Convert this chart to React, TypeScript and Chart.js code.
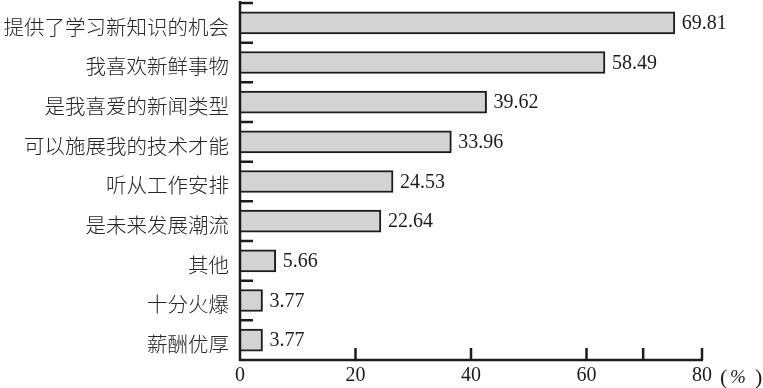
import React, { useEffect, useRef } from 'react';
import { Chart, registerables } from 'chart.js';

Chart.register(...registerables);

// Categories, top to bottom
const categories = [
  '提供了学习新知识的机会',
  '我喜欢新鲜事物',
  '是我喜爱的新闻类型',
  '可以施展我的技术才能',
  '听从工作安排',
  '是未来发展潮流',
  '其他',
  '十分火爆',
  '薪酬优厚',
];
// Bar lengths as drawn in the picture (x-axis units)
const barLengths = [75.3, 63.2, 42.7, 36.6, 26.5, 24.4, 6.2, 3.9, 3.9];
// Values printed next to the bars
const printedValues = ['69.81', '58.49', '39.62', '33.96', '24.53', '22.64', '5.66', '3.77', '3.77'];
// X axis tick labels and tick marks
const xTickValues = [0, 20, 40, 60, 80];
const xTickMarks = [20, 40, 60, 69.81, 80];
const xUnitParts = ['(', '%', ')'];

const INK = '#1c1c1c';
const BAR_FILL = '#d3d3d3';
const SERIF = '"Liberation Serif", "Times New Roman", serif';
const CJK = '"Noto Sans CJK SC", sans-serif';

const decor = {
  id: 'decor',
  afterDraw(chart: any) {
    const { ctx, chartArea: a, scales } = chart;
    const x = scales.x;
    const y = scales.y;
    ctx.save();
    ctx.strokeStyle = INK;
    ctx.lineWidth = 2.5;
    ctx.lineCap = 'butt';
    ctx.beginPath();
    ctx.moveTo(a.left, a.top - 2);
    ctx.lineTo(a.left, a.bottom);
    ctx.lineTo(a.right + 1, a.bottom);
    ctx.stroke();

    // y ticks at category boundaries (pointing inward)
    const n = categories.length;
    const h = (a.bottom - a.top) / n;
    ctx.beginPath();
    for (let i = 0; i < n; i++) {
      const yy = y.getPixelForValue(i) - h / 2;
      ctx.moveTo(a.left, yy);
      ctx.lineTo(a.left + 13, yy);
    }
    // x ticks pointing upward
    for (const v of xTickMarks) {
      const px = x.getPixelForValue(v);
      ctx.moveTo(px, a.bottom);
      ctx.lineTo(px, a.bottom - 12);
    }
    ctx.stroke();

    // value labels
    ctx.fillStyle = INK;
    ctx.font = `20px ${SERIF}`;
    ctx.textAlign = 'left';
    ctx.textBaseline = 'middle';
    const meta = chart.getDatasetMeta(0);
    meta.data.forEach((bar: any, i: number) => {
      ctx.fillText(printedValues[i], bar.x + 7, bar.y + 1);
    });

    // unit after the last tick label
    const p80 = x.getPixelForValue(xTickValues[xTickValues.length - 1]);
    const uy = a.bottom + 18;
    ctx.font = `22px ${SERIF}`;
    ctx.fillText(xUnitParts[0], p80 + 18, uy);
    ctx.font = `italic 19px ${SERIF}`;
    ctx.fillText(xUnitParts[1], p80 + 28, uy);
    ctx.font = `22px ${SERIF}`;
    ctx.fillText(xUnitParts[2], p80 + 53, uy);
    ctx.restore();
  },
};

export default function App() {
  const ref = useRef<HTMLCanvasElement | null>(null);

  useEffect(() => {
    if (!ref.current) return;
    const chart = new Chart(ref.current, {
      type: 'bar',
      data: {
        labels: categories,
        datasets: [
          {
            data: barLengths,
            backgroundColor: BAR_FILL,
            borderColor: INK,
            borderWidth: 2,
            barThickness: 22,
          },
        ],
      },
      options: {
        indexAxis: 'y',
        animation: false,
        responsive: true,
        maintainAspectRatio: false,
        layout: { padding: { top: 3, right: 61, bottom: 0, left: 0 } },
        plugins: { legend: { display: false }, tooltip: { enabled: false } },
        scales: {
          y: {
            type: 'category',
            grid: { display: false, drawTicks: false },
            border: { display: false },
            ticks: {
              font: { family: CJK, size: 20.5, weight: '300' },
              color: '#262626',
              padding: 11,
              labelOffset: 4,
              autoSkip: false,
            },
            afterFit: (s: any) => {
              s.width = 240;
              s.paddingTop = 0;
              s.paddingBottom = 0;
            },
          },
          x: {
            type: 'linear',
            min: 0,
            max: 80,
            grid: { display: false, drawTicks: false },
            border: { display: false },
            ticks: {
              font: { family: SERIF, size: 20 },
              color: INK,
              padding: 4,
              maxRotation: 0,
              autoSkip: false,
            },
            afterBuildTicks: (s: any) => {
              s.ticks = xTickValues.map((v) => ({ value: v }));
            },
            afterFit: (s: any) => {
              s.height = 28;
              s.paddingLeft = 0;
              s.paddingRight = 0;
            },
          },
        },
      },
      plugins: [decor],
    });
    return () => chart.destroy();
  }, []);

  return (
    <div
      style={{
        position: 'fixed',
        left: 0,
        top: 0,
        width: 763,
        height: 388,
        background: '#ffffff',
      }}
    >
      <canvas ref={ref} />
    </div>
  );
}
